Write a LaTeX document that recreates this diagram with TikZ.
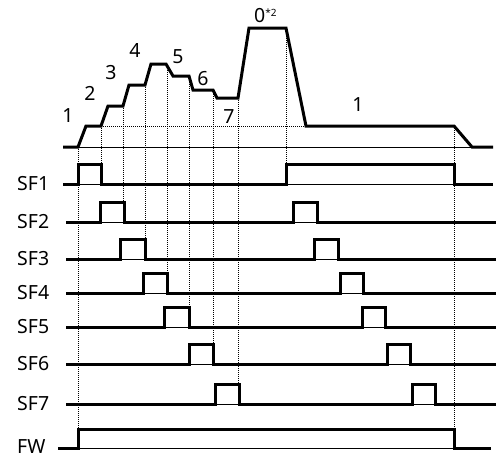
\documentclass[tikz,border=0pt]{standalone}
\usepackage{fontspec}
\setmainfont{Noto Sans}
\usepackage{tikz}

\begin{document}
\begin{tikzpicture}[x=1pt, y=-1pt, every node/.style={font=\fontsize{19.5}{22}\selectfont, inner sep=0pt},
	wave/.style={line width=3pt, line join=miter}, base/.style={line width=0.8pt}, guide/.style={line width=1pt, dash pattern=on 1pt off 1pt}]
	\useasboundingbox (0,0) rectangle (501,459);
	% speed profile
	\draw[base] (63,147) -- (493,147);
	\draw[guide] (101,126) -- (306,126);
	\foreach \x/\t/\b in {78/147/429, 101/126/164, 123/106/202, 145/85/238, 167/64/273, 189/76/307, 213/90/346, 238/98/385, 286/28/164, 454/126/429} {\draw[guide] (\x,\t) -- (\x,\b);}
	\draw[wave] (63,147) -- (78,147) -- (86,126) -- (101,126) -- (108,106) -- (123,106) -- (129,85) -- (145,85) -- (151,64) -- (166,64) -- (173,76) -- (189,76) -- (193,90) -- (213,90) -- (217,98) -- (238,98) -- (249,28) -- (286,28) -- (306,126) -- (454,126) -- (472,147) -- (493,147);
	\foreach \n/\x/\y/\txt in {a/68/116/1, b/90/93/2, c/111/73/3, d/135/50/4, e/178/57/5, f/203/79/6, g/229/117/7, h/358/105/1} {\node (n\n) at (\x,\y) {\txt};}
	\node[anchor=base west] (ntop) at (254,22) {0{\fontsize{10}{10}\selectfont\raisebox{6pt}{*2}}};
	% switching signals
	\node[anchor=west] (SF1) at (17,184) {SF1};
	\draw[base] (63,184) -- (493,184);
	\draw[wave] (63,184) -- (78,184) -- (78,164) -- (101,164) -- (101,184) -- (286,184) -- (286,164) -- (454,164) -- (454,184) -- (493,184);
	\foreach \nm/\y/\a/\b/\c/\d in {SF2/222/100/124/293/317, SF3/259/120/145/314/338, SF4/293/143/167/340/363, SF5/327/164/189/362/385, SF6/364/189/213/387/410, SF7/404/215/239/412/435} {
		\node[anchor=west] (\nm) at (17,\y) {\nm};
		\draw[base] (66,\y) -- (496,\y);
		\draw[wave] (66,\y) -- (\a,\y) -- (\a,{\y-20}) -- (\b,{\y-20}) -- (\b,\y) -- (\c,\y) -- (\c,{\y-20}) -- (\d,{\y-20}) -- (\d,\y) -- (496,\y);
	}
	\node[anchor=west] (FW) at (17,447) {FW};
	\draw[base] (58,448) -- (491,448);
	\draw[wave] (58,448) -- (78,448) -- (78,429) -- (454,429) -- (454,448) -- (491,448);
\end{tikzpicture}
\end{document}
